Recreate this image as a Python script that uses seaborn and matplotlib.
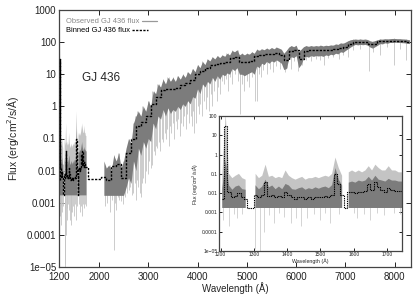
#!/usr/bin/env python3
#===============================================================================
# plot GJ 436 spectrum
#===============================================================================

# Imports ======================================================================

import numpy as np
import pandas as pd
import seaborn as sns
import matplotlib
matplotlib.use('Agg')
import matplotlib.pyplot as plt


# Data =========================================================================

nan = np.nan
FLOOR = 0.0017  # lower clip of the observed flux

# FUV (COS) region, 10 A bins
fuv_wave = [1205, 1215, 1225, 1235, 1245, 1255, 1265, 1275, 1285, 1295,
            1305, 1315, 1325, 1335, 1345, 1355, 1365, 1375, 1385, 1395,
            1405, 1415, 1425, 1435, 1445, 1455, 1465, 1475, 1485, 1495,
            1505, 1515, 1525, 1535, 1545, 1555, 1565, 1575, 1585, 1595,
            1605, 1615, 1625, 1635, 1645, 1655, 1665, 1675, 1685, 1695,
            1705, 1715, 1725, 1735, 1745]
fuv_binned = [0.005, 30, 0.012, 0.006, 0.007, 0.01, 0.006, 0.005, 0.0017, 0.0017,
              0.008, 0.006, 0.008, 0.04, 0.007, 0.008, 0.006, 0.007, 0.006, 0.012,
              0.008, 0.006, 0.005, 0.006, 0.006, 0.005, 0.006, 0.005, 0.006, 0.006,
              0.006, 0.007, 0.006, 0.008, 0.1, 0.03, 0.008, 0.0017, 0.011, 0.012,
              0.01, 0.012, 0.011, 0.013, 0.03, 0.015, 0.04, 0.02, 0.015, 0.012,
              0.018, 0.015, 0.013, 0.013, 0.013]
fuv_dark = [0.018, 0.5, 0.025, 0.015, 0.022, 0.025, 0.016, 0.015, nan, nan,
            0.025, 0.016, 0.022, 0.05, 0.02, 0.025, 0.016, 0.022, 0.016, 0.03,
            0.025, 0.016, 0.015, 0.018, 0.02, 0.015, 0.018, 0.016, 0.02, 0.017,
            0.02, 0.022, 0.018, 0.026, 0.2, 0.05, 0.025, nan, 0.035, 0.04,
            0.035, 0.045, 0.04, 0.045, 0.07, 0.045, 0.08, 0.05, 0.045, 0.04,
            0.055, 0.045, 0.045, 0.04, 0.04]
fuv_light = [0.08, 150, 0.1, 0.06, 0.08, 0.1, 0.06, 0.05, nan, nan,
             0.1, 0.06, 0.08, 0.3, 0.07, 0.08, 0.06, 0.07, 0.06, 0.15,
             0.08, 0.06, 0.05, 0.06, 0.07, 0.05, 0.06, 0.06, 0.07, 0.06,
             0.07, 0.08, 0.07, 0.1, 0.7, 0.2, 0.08, nan, 0.12, 0.15,
             0.12, 0.15, 0.12, 0.15, 0.25, 0.15, 0.3, 0.2, 0.15, 0.15,
             0.25, 0.15, 0.15, 0.12, 0.12]
fuv_spike_wave = [1206, 1225, 1240, 1250, 1265, 1303, 1318, 1330, 1345, 1360,
                  1375, 1390, 1410, 1425, 1440, 1460, 1480, 1500, 1515, 1530,
                  1555, 1600, 1610, 1630, 1650, 1670, 1690, 1720, 1740]
fuv_spike_low = [4e-4, 2e-4, 8e-4, 5e-4, 8e-4, 1.2e-5, 1e-5, 1e-4, 7e-4, 3e-4,
                 9e-4, 6e-4, 3e-4, 5e-4, 2e-4, 5e-4, 8e-4, 4e-4, 9e-4, 3e-4,
                 8e-4, 9e-4, 5e-4, 8e-4, 4e-4, 9e-4, 7e-4, 9e-4, 8e-4]

# NUV / optical region: binned flux in 100 A bins
opt_wave = [1800, 1900, 2000, 2100, 2200, 2300, 2400, 2500, 2600, 2700,
            2800, 2900, 3000, 3100, 3200, 3300, 3400, 3500, 3600, 3700,
            3800, 3900, 4000, 4100, 4200, 4300, 4400, 4500, 4600, 4700,
            4800, 4900, 5000, 5100, 5200, 5300, 5400, 5500, 5600, 5700,
            5800, 5900, 6000, 6100, 6200, 6300, 6400, 6500, 6600, 6700,
            6800, 6900, 7000, 7100, 7200, 7300, 7400, 7500, 7600, 7700,
            7800, 7900, 8000, 8100, 8200, 8300]
opt_binned = [0.0056, 0.0056, 0.0056, 0.0065, 0.005, 0.014, 0.016, 0.006, 0.035, 0.1,
              0.25, 0.33, 0.5, 1.2, 2.0, 3.2, 3.5, 3.6, 3.8, 4.5,
              5.2, 6.5, 10, 13, 16, 20, 21, 22, 24, 32,
              35, 24, 24, 25, 36, 40, 42, 44, 46, 40,
              27, 52, 56, 30, 54, 55, 55, 55, 56, 58,
              62, 68, 72, 90, 103, 103, 103, 90, 88, 106,
              108, 110, 112, 108, 106, 100]

# NUV / optical observed envelope, 50 A samples
obs_wave = [2100, 2150, 2200, 2250, 2300, 2350, 2400, 2450, 2500, 2550,
            2600, 2650, 2700, 2750, 2800, 2850, 2900, 2950, 3000, 3050,
            3100, 3150, 3200, 3250, 3300, 3350, 3400, 3450, 3500, 3550,
            3600, 3650, 3700, 3750, 3800, 3850, 3900, 3950, 4000, 4050,
            4100, 4150, 4200, 4250, 4300, 4350, 4400, 4450, 4500, 4550,
            4600, 4650, 4700, 4750, 4800, 4850, 4900, 4950, 5000, 5050,
            5100, 5150, 5200, 5250, 5300, 5350, 5400, 5450, 5500, 5550,
            5600, 5650, 5700, 5750, 5800, 5850, 5900, 5950, 6000, 6050,
            6100, 6150, 6200, 6250, 6300, 6350, 6400, 6450, 6500, 6550,
            6600, 6650, 6700, 6750, 6800, 6850, 6900, 6950, 7000, 7050,
            7100, 7150, 7200, 7250, 7300, 7350, 7400, 7450, 7500, 7550,
            7600, 7650, 7700, 7750, 7800, 7850, 7900, 7950, 8000, 8050,
            8100, 8150, 8200, 8250, 8300]
obs_hi = [0.02, 0.012, 0.015, 0.01, 0.03, 0.02, 0.035, 0.012, 0.02, 0.05,
          0.1, 0.07, 0.3, 0.5, 0.7, 0.5, 1.0, 0.7, 1.5, 1.0,
          3, 2.5, 5, 4, 7, 5, 8, 6, 8, 6,
          9, 7, 10, 8, 12, 10, 15, 12, 20, 16,
          25, 20, 30, 26, 35, 30, 38, 33, 40, 36,
          45, 40, 55, 50, 58, 40, 45, 40, 45, 42,
          50, 45, 60, 55, 62, 58, 65, 60, 68, 62,
          70, 65, 60, 45, 55, 70, 78, 72, 80, 50,
          60, 72, 78, 74, 78, 75, 78, 76, 80, 76,
          80, 78, 82, 80, 88, 85, 95, 92, 100, 110,
          118, 122, 125, 122, 125, 122, 125, 120, 110, 105,
          112, 118, 125, 124, 128, 126, 128, 130, 130, 128,
          128, 126, 125, 122, 118]
obs_lo = [0.0017, 0.0017, 0.0017, 0.0017, 0.0017, 0.0017, 0.0017, 0.0017, 0.0017, 0.003,
          0.006, 0.004, 0.02, 0.01, 0.05, 0.03, 0.08, 0.05, 0.1, 0.08,
          0.3, 0.2, 0.5, 0.4, 0.8, 0.5, 0.9, 0.6, 0.8, 0.7,
          1.0, 0.8, 1.2, 1.0, 1.5, 1.2, 2.0, 1.8, 3.5, 2.5,
          5, 4, 6, 5, 8, 6, 9, 7, 10, 9,
          11, 10, 15, 13, 16, 10, 10, 9, 10, 11,
          12, 10, 18, 16, 22, 20, 25, 22, 26, 24,
          28, 25, 22, 14, 15, 30, 35, 33, 38, 16,
          20, 32, 36, 34, 38, 36, 38, 37, 38, 36,
          40, 38, 42, 40, 45, 43, 50, 48, 55, 62,
          70, 78, 85, 82, 85, 83, 85, 80, 70, 65,
          72, 80, 90, 88, 95, 92, 98, 97, 100, 98,
          98, 96, 95, 92, 90]

# absorption features that dip below the band (light grey)
opt_spike_wave = [2130, 2170, 2215, 2260, 2300, 2330, 2350, 2380, 2410, 2450,
                  2480, 2520, 2560, 2600, 2640, 2670, 2700, 2730, 2760, 2780,
                  2800, 2830, 2850, 2880, 2900, 2930, 2960, 2990, 3020, 3050,
                  3080, 3110, 3130, 3160, 3180, 3210, 3240, 3270, 3300, 3330,
                  3360, 3390, 3420, 3450, 3470, 3500, 3530, 3560, 3580, 3610,
                  3640, 3670, 3700, 3730, 3760, 3790, 3830, 3860, 3880, 3910,
                  3930, 3970, 4000, 4030, 4060, 4100, 4130, 4170, 4200, 4230,
                  4270, 4300, 4340, 4390, 4420, 4460, 4500, 4530, 4580, 4620,
                  4660, 4700, 4760, 4820, 4860, 4900, 4950, 5000, 5050, 5100,
                  5170, 5200, 5240, 5280, 5330, 5400, 5460, 5530, 5600, 5680,
                  5770, 5820, 5890, 5950, 6040, 6120, 6200, 6300, 6400, 6480,
                  6560, 6650, 6750, 6870, 6950, 7060, 7150, 7300, 7480, 7560,
                  7700, 7850, 7980, 8100, 8220]
opt_spike_low = [8e-4, 1e-3, 5e-4, 1.2e-3, 3.5e-5, 1e-3, 6e-4, 1.5e-3, 1.2e-3, 1.1e-3,
                 9e-4, 1.5e-3, 0.002, 0.0025, 0.003, 0.0018, 0.002, 0.004, 0.0012, 0.005,
                 0.003, 0.002, 0.0015, 0.004, 0.006, 0.004, 0.01, 0.008, 0.02, 0.012,
                 0.015, 0.04, 0.03, 0.06, 0.05, 0.08, 0.04, 0.1, 0.08, 0.15,
                 0.1, 0.2, 0.06, 0.25, 0.15, 0.3, 0.1, 0.35, 0.2, 0.4,
                 0.12, 0.3, 0.25, 0.5, 0.2, 0.6, 0.3, 0.5, 0.25, 0.7,
                 0.15, 0.3, 1.0, 0.6, 1.2, 0.5, 1.5, 0.8, 2.0, 0.7,
                 2.5, 1.0, 3, 1.5, 4, 2.5, 6, 5, 7, 3,
                 8, 5, 10, 6, 0.6, 5, 3, 6, 4, 8,
                 1.5, 1.5, 10, 8, 14, 10, 15, 12, 18, 15,
                 12, 16, 15, 25, 13, 20, 28, 25, 30, 28,
                 20, 32, 35, 30, 40, 35, 55, 60, 13, 50,
                 40, 70, 19, 60, 27]

main_xticks = [1200, 2000, 3000, 4000, 5000, 6000, 7000, 8000]
main_yticks = [1e-5, 1e-4, 1e-3, 1e-2, 1e-1, 1, 10, 100, 1000]
main_ylabels = ['1e\u221205', '0.0001', '0.001', '0.01', '0.1', '1', '10', '100', '1000']
inset_xticks = [1200, 1300, 1400, 1500, 1600, 1700]
inset_yticks = [1e-5, 1e-4, 1e-3, 1e-2, 1e-1, 1, 10, 100]
inset_ylabels = ['1e\u221205', '0.0001', '0.001', '0.01', '0.1', '1', '10', '100']

legend_labels = ['Observed GJ 436 flux', 'Binned GJ 436 flux']

DARK = '#7c7c7c'
LIGHT = '#c4c4c4'
BIN_DASH = (0, (1.6, 1.0))


# Functions ====================================================================

def lookup(wave, values, w):
    # value of the sample nearest to w
    i = int(np.argmin(np.abs(np.asarray(wave) - w)))
    v = values[i]
    return FLOOR if np.isnan(v) else v


def draw_spectrum(ax, with_opt=True, lw_spike=0.6):
    ax.vlines(fuv_spike_wave,
              fuv_spike_low,
              [lookup(fuv_wave, fuv_dark, w) for w in fuv_spike_wave],
              color=LIGHT, lw=lw_spike, zorder=1)
    ax.fill_between(fuv_wave, FLOOR, fuv_light, color=LIGHT, lw=0, zorder=1)
    ax.fill_between(fuv_wave, FLOOR, fuv_dark, color=DARK, lw=0, zorder=2)
    if with_opt:
        ax.vlines(opt_spike_wave,
                  opt_spike_low,
                  [lookup(obs_wave, obs_hi, w) for w in opt_spike_wave],
                  color=LIGHT, lw=lw_spike, zorder=1)
        ax.fill_between(obs_wave, obs_lo, obs_hi, color=DARK, lw=0, zorder=2)


def style_axes(ax, size, length):
    ax.set_yscale('log')
    ax.minorticks_off()
    ax.tick_params(direction='in', top=True, right=True, length=length,
                   width=0.7, labelsize=size, pad=2, colors='#222222')
    for s in ax.spines.values():
        s.set_linewidth(0.9)
        s.set_color('#444444')


def draw_key(fig, ax):
    # gnuplot-like key: left-aligned text followed by the line sample
    styles = [dict(color='#999999', lw=0.9, linestyle='-'),
              dict(color='black', lw=1.0, linestyle=BIN_DASH)]
    colors = ['#888888', 'black']
    rows = [0.957, 0.922]
    fig.canvas.draw()
    inv = ax.transAxes.inverted()
    for label, style, color, y in zip(legend_labels, styles, colors, rows):
        t = ax.text(0.02, y, label, transform=ax.transAxes, fontsize=5.4,
                    color=color, va='center', ha='left')
        bb = t.get_window_extent(renderer=fig.canvas.get_renderer())
        x_end = inv.transform((bb.x1, bb.y0))[0]
        ax.plot([x_end + 0.006, x_end + 0.05], [y, y],
                transform=ax.transAxes, **style)


def main():
    sns.set_theme(style='ticks')
    plt.rcParams['font.family'] = ['Liberation Sans', 'DejaVu Sans']

    fig = plt.figure(figsize=(4.19, 2.97), dpi=100)
    ax = fig.add_axes([59 / 419, 1 - 267 / 297, 352 / 419, 257 / 297])

    draw_spectrum(ax)
    binned = pd.DataFrame({
        'Wavelength': fuv_wave + opt_wave,
        'Flux': fuv_binned + opt_binned,
    })
    sns.lineplot(data=binned, x='Wavelength', y='Flux', ax=ax,
                 color='black', lw=1.0, linestyle=BIN_DASH,
                 drawstyle='steps-mid', zorder=3)

    style_axes(ax, 7, 3.5)
    ax.tick_params(axis='x', pad=3.5)
    ax.set_xlim(1190, 8330)
    ax.set_ylim(1e-5, 1000)
    ax.set_xticks(main_xticks)
    ax.set_xticklabels([str(t) for t in main_xticks])
    ax.set_yticks(main_yticks)
    ax.set_yticklabels(main_ylabels)
    ax.set_xlabel('Wavelength (\u00c5)', fontsize=7, labelpad=0.5)
    ax.set_ylabel('Flux (erg/cm$^2$/s/\u00c5)', fontsize=7.5, labelpad=4)
    ax.text(0.065, 0.735, 'GJ 436', transform=ax.transAxes, fontsize=8.5,
            va='center', ha='left')

    # inset zoom on the FUV part
    axi = fig.add_axes([219 / 419, 1 - 251 / 297, 183 / 419, 135 / 297])
    axi.set_facecolor('white')
    draw_spectrum(axi, with_opt=False, lw_spike=0.5)
    sns.lineplot(x=fuv_wave, y=fuv_binned, ax=axi, color='black', lw=0.8,
                 linestyle=(0, (1.2, 0.8)), drawstyle='steps-mid', zorder=3)
    style_axes(axi, 3.6, 2)
    axi.set_xlim(1195, 1745)
    axi.set_ylim(1e-5, 100)
    axi.set_xticks(inset_xticks)
    axi.set_xticklabels([str(t) for t in inset_xticks])
    axi.set_yticks(inset_yticks)
    axi.set_yticklabels(inset_ylabels)
    axi.tick_params(pad=1)
    axi.set_xlabel('Wavelength (\u00c5)', fontsize=3.8, labelpad=0.5)
    axi.set_ylabel('Flux (erg/cm$^2$/s/\u00c5)', fontsize=3.6, labelpad=1)

    draw_key(fig, ax)

    fig.savefig('out.png', dpi=100)


# Execute ======================================================================

if __name__ == '__main__':
    main()
